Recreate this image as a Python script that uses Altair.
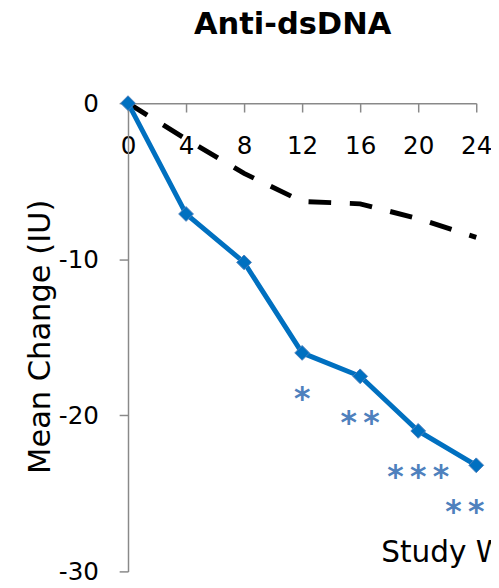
import altair as alt
import pandas as pd

weeks = [0, 4, 8, 12, 16, 20, 24]
active = [0, -7.1, -10.2, -16.0, -17.5, -21.0, -23.2]
placebo = [0, -2.3, -4.5, -6.3, -6.45, -7.4, -8.6]
star_weeks = [12, 16, 20, 24]
star_labels = ["*", "*\u2009*", "*\u2009*\u2009*", "*\u2009*\u2009*"]
star_y = [-18.6, -20.1, -23.6, -25.8]

df_active = pd.DataFrame({"week": weeks, "value": active})
df_placebo = pd.DataFrame({"week": weeks, "value": placebo})
df_star = pd.DataFrame({"week": star_weeks, "value": star_y, "label": star_labels})

FONT = "DejaVu Sans"
PLOT_H = 476

x = alt.X(
    "week:Q",
    scale=alt.Scale(domain=[0, 24], nice=False, zero=False),
    axis=alt.Axis(
        values=weeks,
        orient="bottom",
        offset=-PLOT_H,
        title="Study Weeks",
        titleFont=FONT,
        titleFontSize=30,
        titleFontWeight="normal",
        titleColor="black",
        titleAlign="left",
        titleBaseline="alphabetic",
        titleX=257,
        titleY=466,
        labelFont=FONT,
        labelFontSize=25,
        labelColor="black",
        labelPadding=22,
        labelOverlap=False,
        labelFlush=False,
        tickSize=9,
        tickColor="#898989",
        tickWidth=1.5,
        domainColor="#898989",
        domainWidth=1.5,
        grid=False,
    ),
)
y = alt.Y(
    "value:Q",
    scale=alt.Scale(domain=[-30, 0], nice=False, zero=False),
    axis=alt.Axis(
        values=[0, -10, -20, -30],
        labelExpr="'' + datum.value",
        title="Mean Change (IU)",
        titleFont=FONT,
        titleFontSize=31,
        titleFontWeight="normal",
        titleColor="black",
        titleBaseline="alphabetic",
        titleX=-80,
        titleY=237,
        labelFont=FONT,
        labelFontSize=25,
        labelColor="black",
        labelPadding=21,
        labelOverlap=False,
        tickSize=9,
        tickColor="#898989",
        tickWidth=1.5,
        domainColor="#898989",
        domainWidth=1.5,
        grid=False,
    ),
)

placebo_line = alt.Chart(df_placebo).mark_line(
    color="black", strokeWidth=5, strokeDash=[23, 19]
).encode(x=x, y=y)

active_line = alt.Chart(df_active).mark_line(
    color="#0070C0", strokeWidth=5
).encode(x=x, y=y)

active_pts = alt.Chart(df_active).mark_point(
    shape="diamond", size=225, filled=True, fill="#0070C0",
    stroke="#4A7EBB", strokeWidth=1, opacity=1
).encode(x=x, y=y)

stars = alt.Chart(df_star).mark_text(
    font=FONT, fontSize=32, fontWeight="bold", color="#4F81BD",
    baseline="middle", align="center", dy=6
).encode(x=x, y=y, text="label:N")

chart = (
    alt.layer(placebo_line, active_line, active_pts, stars)
    .properties(
        width=354,
        height=PLOT_H,
        autosize=alt.AutoSizeParams(type="none"),
        padding={"left": 122, "top": 92, "right": 15, "bottom": 4},
        title=alt.TitleParams(
            "Anti-dsDNA", font=FONT, fontSize=31, fontWeight="bold",
            color="black", anchor="start", frame="group", dx=67,
            baseline="alphabetic", offset=27
        ),
    )
    .configure_view(stroke=None)
)

chart.save("out.html", embed_options={"renderer": "svg", "actions": False})
